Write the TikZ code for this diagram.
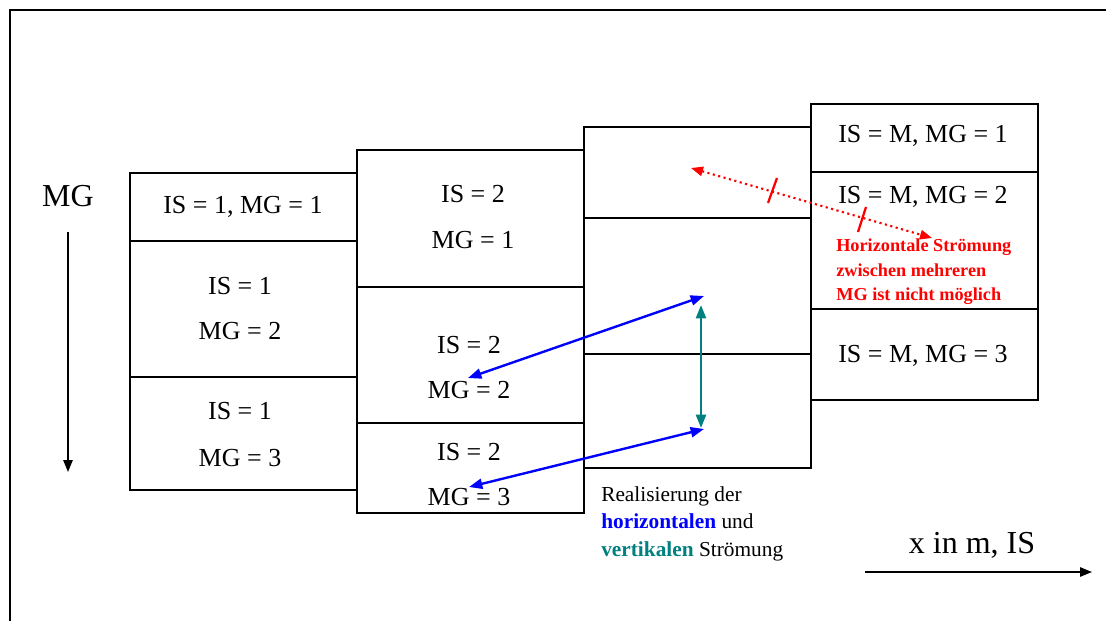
\documentclass[tikz,border=0pt]{standalone}
\usepackage{fontspec}
\setmainfont{Liberation Serif}
\usetikzlibrary{arrows.meta}
\definecolor{redc}{RGB}{255,0,0}
\definecolor{bluec}{RGB}{0,0,255}
\definecolor{tealc}{RGB}{0,128,128}
\newcommand\mkcell[5]{\node[cell, minimum width={(#4-#2)*0.75pt}, minimum height={(#5-#3)*0.75pt}] (#1) at ({(#2+#4)/2},{(#3+#5)/2}) {};}
\tikzset{
  cell/.style={draw, line width=1.5pt, inner sep=0pt},
  big/.style={font=\fontsize{19.5}{23}\selectfont, inner sep=0pt},
  axislabel/.style={font=\fontsize{24}{28}\selectfont, inner sep=0pt},
  note/.style={font=\fontsize{16}{19}\selectfont, inner sep=0pt, anchor=base west},
  rednote/.style={font=\fontsize{13.7}{16}\selectfont\bfseries, text=redc, inner sep=0pt, anchor=base west},
  axisarrow/.style={line width=1.3pt, -{Triangle[length=9pt,width=7pt]}},
  blueflow/.style={draw=bluec, line width=1.8pt, {Triangle[length=10pt,width=7.5pt]}-{Triangle[length=10pt,width=7.5pt]}},
  tealflow/.style={draw=tealc, line width=1.8pt, {Triangle[length=10pt,width=7.5pt]}-{Triangle[length=10pt,width=7.5pt]}},
  redflow/.style={draw=redc, line width=1.6pt, dash pattern=on 1.6pt off 2.6pt, {Triangle[length=9pt,width=7pt]}-{Triangle[length=9pt,width=7pt]}},
  redtick/.style={draw=redc, line width=1.7pt},
}
\begin{document}
\begin{tikzpicture}[x=0.75pt, y=-0.75pt]
\useasboundingbox (0,0) rectangle (1106,621);
\draw[line width=1.8pt] (10,621) -- (10,10) -- (1106,10);

% cells
\mkcell{c11}{130}{173}{357}{241}
\mkcell{c12}{130}{241}{357}{377}
\mkcell{c13}{130}{377}{357}{490}
\mkcell{c21}{357}{150}{584}{287}
\mkcell{c22}{357}{287}{584}{423}
\mkcell{c23}{357}{423}{584}{513}
\mkcell{c31}{584}{127}{811}{218}
\mkcell{c32}{584}{218}{811}{354}
\mkcell{c33}{584}{354}{811}{468}
\mkcell{c41}{811}{104}{1038}{172}
\mkcell{c42}{811}{172}{1038}{309}
\mkcell{c43}{811}{309}{1038}{400}

% cell texts
\node[big] (t11) at (243,207) {IS = 1, MG = 1};
\node[big] (t12a) at (240,286) {IS = 1};
\node[big] (t12b) at (240,331) {MG = 2};
\node[big] (t13a) at (240,411) {IS = 1};
\node[big] (t13b) at (240,458) {MG = 3};
\node[big] (t21a) at (473,194) {IS = 2};
\node[big] (t21b) at (473,240) {MG = 1};
\node[big] (t22a) at (469,345) {IS = 2};
\node[big] (t22b) at (469,390) {MG = 2};
\node[big] (t23a) at (469,452) {IS = 2};
\node[big] (t23b) at (469,497) {MG = 3};
\node[big] (t41) at (923,136) {IS = M, MG = 1};
\node[big] (t42) at (923,197) {IS = M, MG = 2};
\node[big] (t43) at (923,356) {IS = M, MG = 3};

% red note
\node[rednote] (r1t) at (836,251) {Horizontale Strömung};
\node[rednote] (r2t) at (836,276) {zwischen mehreren};
\node[rednote] (r3t) at (836,300) {MG ist nicht möglich};

% legend note
\node[note] (n1) at (601,501) {Realisierung der};
\node[note] (n2) at (601,528) {\textcolor{bluec}{\bfseries horizontalen} und};
\node[note] (n3) at (601,556) {\textcolor{tealc}{\bfseries vertikalen} Strömung};

% axes
\node[axislabel] (mg) at (68,196) {MG};
\node[axislabel] (xis) at (972,545) {x in m, IS};
\coordinate (mgA) at (68,232);
\coordinate (mgB) at (68,472);
\coordinate (xA) at (865,572);
\coordinate (xB) at (1092,572);
\draw[axisarrow] (mgA) -- (mgB);
\draw[axisarrow] (xA) -- (xB);

% flows
\coordinate (b1) at (468,378);
\coordinate (b2) at (704,296);
\coordinate (b3) at (469,487);
\coordinate (b4) at (704,429);
\coordinate (v1) at (701,305);
\coordinate (v2) at (701,428);
\coordinate (ra) at (691,168);
\coordinate (rb) at (932,238);
\coordinate (k1a) at (768,203);
\coordinate (k1b) at (777,178);
\coordinate (k2a) at (858,232);
\coordinate (k2b) at (866,207);
\draw[blueflow] (b1) -- (b2);
\draw[blueflow] (b3) -- (b4);
\draw[tealflow] (v1) -- (v2);
\draw[redflow] (ra) -- (rb);
\draw[redtick] (k1a) -- (k1b);
\draw[redtick] (k2a) -- (k2b);
\end{tikzpicture}
\end{document}
